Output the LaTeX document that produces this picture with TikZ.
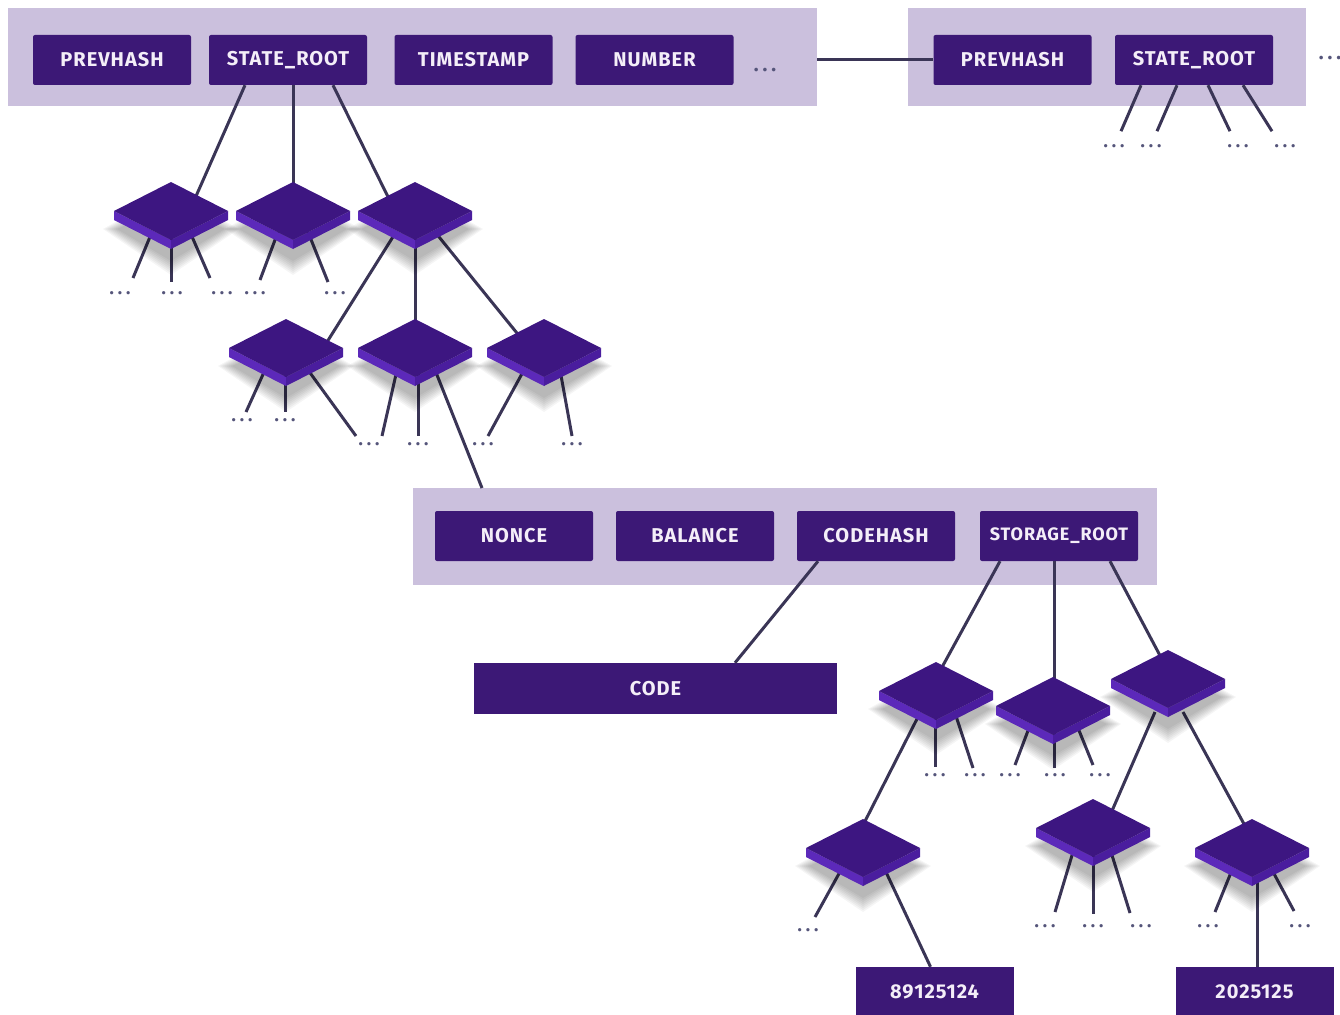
\documentclass[tikz,border=0pt]{standalone}
\usepackage{fontspec}
\setmainfont{Fira Sans}
\newfontfamily\fieldfont{Fira Sans}[LetterSpace=5]
\usetikzlibrary{calc}

\definecolor{barfill}{HTML}{CBC0DD}
\definecolor{fieldfill}{HTML}{3C1876}
\definecolor{fieldtext}{HTML}{F4EEF8}
\definecolor{linkcol}{HTML}{3A3556}
\definecolor{dotcol}{HTML}{55557A}
\definecolor{platetop}{HTML}{3D1681}
\definecolor{plateleft}{HTML}{5C29BA}
\definecolor{plateright}{HTML}{4A1D9E}

% three spaced dots marking elided children
\newcommand\ellip{.\kern4pt.\kern4pt.}

\tikzset{
  block/.style={fill=barfill, draw=none, inner sep=0pt, anchor=north west},
  field/.style={fill=fieldfill, text=fieldtext, inner sep=0pt,
    font=\fieldfont\bfseries\fontsize{20}{24}\selectfont,
    minimum width=158pt, minimum height=50pt, rounded corners=2pt},
  link/.style={draw=linkcol, line width=3pt},
  more/.style={text=dotcol, inner sep=0pt, font=\bfseries\fontsize{18}{18}\selectfont},
  plate/.pic={
    % soft shadow under the plate
    \foreach \k in {0,...,7}
      \fill[black, opacity=0.04]
        (-54-2*\k,18) -- (0,-6-2*\k) -- (54+2*\k,18) -- (0,50+2*\k) -- cycle;
    \fill[plateleft]  (-57,0) -- (0,29) -- (0,38) -- (-57,9) -- cycle;
    \fill[plateright] (0,29) -- (57,0) -- (57,9) -- (0,38) -- cycle;
    \fill[platetop]   (-57,0) -- (0,-29) -- (57,0) -- (0,29) -- cycle;
  }
}

\begin{document}
\begin{tikzpicture}[x=1pt, y=-1pt]
\useasboundingbox (0,0) rectangle (1340,1014);
\clip (0,0) rectangle (1340,1014);

% ---- block headers ----
\node[block, minimum width=809pt, minimum height=98pt] (blockA) at (8,8) {};
\node[block, minimum width=398pt, minimum height=98pt] (blockB) at (908,8) {};

\node[field] (pA)  at (112,60)  {PREVHASH};
\node[field] (srA) at (288,60)  {STATE\_ROOT};
\node[field] (tsA) at (473.5,60) {TIMESTAMP};
\node[field] (nA)  at (654.5,60) {NUMBER};
\node[more, font=\bfseries\fontsize{20}{20}\selectfont] (ellA) at (765,70) {\ellip};

\node[field] (pB)  at (1012.5,60) {PREVHASH};
\node[field] (srB) at (1194,60)   {STATE\_ROOT};
\node[more, font=\bfseries\fontsize{20}{20}\selectfont] (ellB) at (1330,58) {\ellip};

\draw[link] (blockA.east |- pB.west) -- (pB.west);

% ---- account record ----
\node[block, minimum width=744pt, minimum height=97pt] (acct) at (413,488) {};
\node[field] (nonce)   at (514,536)  {NONCE};
\node[field] (balance) at (695,536)  {BALANCE};
\node[field] (chash)   at (876,536)  {CODEHASH};
\node[field, font=\fieldfont\bfseries\fontsize{18}{22}\selectfont] (sroot) at (1059,536) {STORAGE\_ROOT};

\node[field, minimum width=363pt, minimum height=51pt, rounded corners=0pt] (code) at (655.5,688.5) {CODE};
\node[field, minimum height=50pt, rounded corners=0pt] (v1) at (934.5,992) {89125124};
\node[field, minimum height=50pt, rounded corners=0pt] (v2) at (1254.5,992) {2025125};

% ---- trie node positions ----
\coordinate (d1) at (171,211);
\coordinate (d2) at (293,211);
\coordinate (d3) at (415,211);
\coordinate (e1) at (286,348);
\coordinate (e2) at (415,348);
\coordinate (e3) at (544,348);
\coordinate (s1) at (936,691);
\coordinate (s2) at (1053,706);
\coordinate (s3) at (1168,679);
\coordinate (t1) at (863,848);
\coordinate (t2) at (1093,828);
\coordinate (t3) at (1252,848);

% ---- connectors ----
% state root of block A
\draw[link] ([xshift=-43pt]srA.south) -- ($(d1)+(22,-8)$);
\draw[link] ([xshift=5pt]srA.south)   -- ($(d2)+(0,-6)$);
\draw[link] ([xshift=45pt]srA.south)  -- ($(d3)+(-23,-6)$);
% state root of block B
\draw[link] ([xshift=-53pt]srB.south) -- ++(-20,46) coordinate (b1);
\draw[link] ([xshift=-17pt]srB.south) -- ++(-20,46) coordinate (b2);
\draw[link] ([xshift=14pt]srB.south)  -- ++(22,46) coordinate (b3);
\draw[link] ([xshift=49pt]srB.south)  -- ++(29,46) coordinate (b4);

% first level
\draw[link] ($(d1)+(-19,21)$) -- ++(-19,46) coordinate (d1a);
\draw[link] ($(d1)+(0,21)$)   -- ++(0,50)   coordinate (d1b);
\draw[link] ($(d1)+(19,21)$)  -- ++(20,46)  coordinate (d1c);
\draw[link] ($(d2)+(-15,21)$) -- ++(-18,48) coordinate (d2a);
\draw[link] ($(d2)+(15,21)$)  -- ++(20,50)  coordinate (d2b);
\draw[link] ($(d3)+(-19,21)$) -- ($(e1)+(36,2)$);
\draw[link] ($(d3)+(0,21)$)   -- ($(e2)+(0,-10)$);
\draw[link] ($(d3)+(20,21)$)  -- ($(e3)+(-19,-5)$);

% second level
\draw[link] ($(e1)+(-21,22)$) -- ++(-19,42) coordinate (e1a);
\draw[link] ($(e1)+(-1,22)$)  -- ++(0,42)   coordinate (e1b);
\draw[link] ($(e1)+(22,22)$)  -- ++(48,66)  coordinate (e1c);
\draw[link] ($(e2)+(-18,22)$) -- ++(-15,66) coordinate (e2a);
\draw[link] ($(e2)+(3,22)$)   -- ++(0,66)   coordinate (e2b);
\draw[link] ($(e2)+(20,22)$)  -- ([xshift=69pt]acct.north west);
\draw[link] ($(e3)+(-20,22)$) -- ++(-36,66) coordinate (e3a);
\draw[link] ($(e3)+(16,22)$)  -- ++(12,66)  coordinate (e3b);

% account fields
\draw[link] ([xshift=-58pt]chash.south) -- ([xshift=79.5pt]code.north);
\draw[link] ([xshift=-59pt]sroot.south) -- ($(s1)+(-1,-11)$);
\draw[link] ([xshift=-5pt]sroot.south)  -- ($(s2)+(1,-10)$);
\draw[link] ([xshift=51pt]sroot.south)  -- ($(s3)+(-3,-14)$);

% storage trie
\draw[link] ($(s1)+(-16,22)$) -- ($(t1)+(-5,-13)$);
\draw[link] ($(s1)+(-1,25)$)  -- ++(0,51)   coordinate (s1a);
\draw[link] ($(s1)+(19,22)$)  -- ++(18,55)  coordinate (s1b);
\draw[link] ($(s2)+(-24,22)$) -- ++(-14,37) coordinate (s2a);
\draw[link] ($(s2)+(1,24)$)   -- ++(0,38)   coordinate (s2b);
\draw[link] ($(s2)+(25,22)$)  -- ++(15,37)  coordinate (s2c);
\draw[link] ($(s3)+(-13,33)$) -- ($(t2)+(15,-8)$);
\draw[link] ($(s3)+(15,33)$)  -- ($(t3)+(-2,-13)$);

\draw[link] ($(t1)+(-22,22)$) -- ++(-26,47) coordinate (t1a);
\draw[link] ($(t1)+(22,22)$)  -- ([xshift=-4pt]v1.north);
\draw[link] ($(t2)+(-20,24)$) -- ++(-18,60) coordinate (t2a);
\draw[link] ($(t2)+(0,26)$)   -- ++(0,60)   coordinate (t2b);
\draw[link] ($(t2)+(18,24)$)  -- ++(19,61)  coordinate (t2c);
\draw[link] ($(t3)+(-20,22)$) -- ++(-17,42) coordinate (t3a);
\draw[link] ($(t3)+(5,30)$)   -- ([xshift=2.5pt]v2.north);
\draw[link] ($(t3)+(20,22)$)  -- ++(22,41)  coordinate (t3b);

% ---- trie nodes ----
\foreach \p in {d1,d2,d3,e1,e2,e3,s1,s2,s3,t1,t2,t3}
  \pic at (\p) {plate};

% ---- elided children ----
\node[more] (m1)  at (1114,146) {\ellip};
\node[more] (m2)  at (1151,146) {\ellip};
\node[more] (m3)  at (1238,146) {\ellip};
\node[more] (m4)  at (1285,146) {\ellip};

\node[more] (m5)  at ($(d1)+(-51,82)$) {\ellip};
\node[more] (m6)  at ($(d1)+(1,82)$)   {\ellip};
\node[more] (m7)  at ($(d1)+(51,82)$)  {\ellip};
\node[more] (m8)  at ($(d2)+(-38,82)$) {\ellip};
\node[more] (m9)  at ($(d2)+(42,82)$)  {\ellip};

\node[more] (m10) at ($(e1)+(-44,72)$) {\ellip};
\node[more] (m11) at ($(e1)+(-1,72)$)  {\ellip};
\node[more] (m12) at ($(e1)+(83,96)$)  {\ellip};
\node[more] (m13) at ($(e2)+(3,96)$)   {\ellip};
\node[more] (m14) at ($(e3)+(-61,96)$) {\ellip};
\node[more] (m15) at ($(e3)+(28,96)$)  {\ellip};

\node[more] (m16) at ($(s1)+(-1,84)$)  {\ellip};
\node[more] (m17) at ($(s1)+(39,84)$)  {\ellip};
\node[more] (m18) at ($(s2)+(-43,69)$) {\ellip};
\node[more] (m19) at ($(s2)+(2,69)$)   {\ellip};
\node[more] (m20) at ($(s2)+(47,69)$)  {\ellip};

\node[more] (m21) at ($(t1)+(-55,82)$) {\ellip};
\node[more] (m22) at ($(t2)+(-48,98)$) {\ellip};
\node[more] (m23) at ($(t2)+(0,98)$)   {\ellip};
\node[more] (m24) at ($(t2)+(48,98)$)  {\ellip};
\node[more] (m25) at ($(t3)+(-44,78)$) {\ellip};
\node[more] (m26) at ($(t3)+(48,78)$)  {\ellip};
\end{tikzpicture}
\end{document}
